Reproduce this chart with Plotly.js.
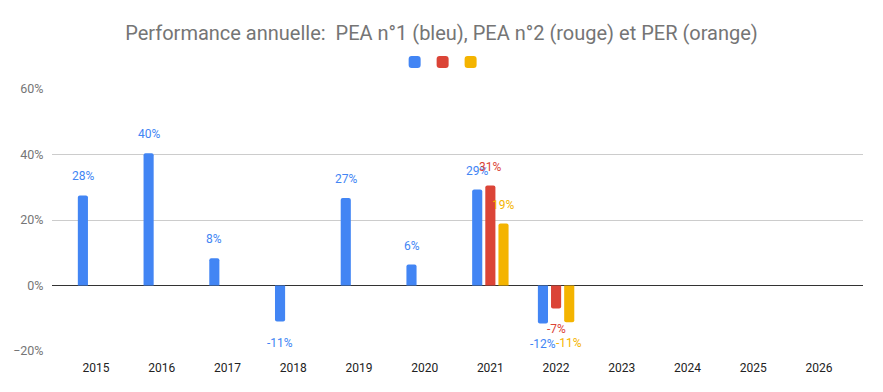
<!DOCTYPE html>
<html>
<head>
<meta charset="utf-8">
<script src="https://cdn.plot.ly/plotly-3.0.1.min.js"></script>
<style>html,body{margin:0;padding:0;background:#fff;}#chart{width:883px;height:392px;}</style>
</head>
<body>
<div id="chart"></div>
<script>
var years = ['2015','2016','2017','2018','2019','2020','2021','2022','2023','2024','2025','2026'];
var pea1 = [27.5, 40.4, 8.3, -11.0, 26.7, 6.4, 29.3, -11.6, null, null, null, null];
var pea2 = [null, null, null, null, null, null, 30.5, -7.0, null, null, null, null];
var per  = [null, null, null, null, null, null, 18.9, -11.2, null, null, null, null];
var seriesNames = [' ', ' ', ' '];
var colors = ['#4285F4', '#DB4437', '#F4B400'];
var series = [pea1, pea2, per];
var legendIds = ['legend', 'legend2', 'legend3'];
var legendX = [0.4225, 0.457, 0.4915];

try {
var slotPx = 65.6 * 0.6 / 3;
var traces = [];
var annotations = [];
series.forEach(function (vals, i) {
  traces.push({
    type: 'bar', x: years, y: vals, name: seriesNames[i], legend: legendIds[i],
    marker: {color: colors[i]}, hoverinfo: 'none'
  });
  for (var j = 0; j < vals.length; j++) {
    var v = vals[j];
    if (v === null || v === undefined) continue;
    annotations.push({
      x: j, y: v, xref: 'x', yref: 'y',
      text: Math.round(v) + '%', showarrow: false,
      xshift: (i - 1) * slotPx, yshift: v >= 0 ? 19 : -21,
      xanchor: 'center', yanchor: 'middle',
      font: {family: 'Roboto, Arial, sans-serif', size: 12, color: colors[i]}
    });
  }
});

var layout = {
  width: 883, height: 392,
  margin: {l: 52, r: 20, t: 89, b: 41},
  paper_bgcolor: '#fff', plot_bgcolor: '#fff',
  font: {family: 'Roboto, Arial, sans-serif'},
  title: {text: 'Performance annuelle:  PEA n°1 (bleu), PEA n°2 (rouge) et PER (orange)',
          x: 0.5, xanchor: 'center', y: 0.915, yanchor: 'middle',
          font: {size: 20, color: '#757575', family: 'Roboto, Arial, sans-serif'}},
  barmode: 'group', bargap: 0.4, bargroupgap: 0.23, barcornerradius: 2,
  showlegend: true,
  xaxis: {type: 'category', range: [-0.67, 11.67], showgrid: false, zeroline: false,
          showline: false, ticks: 'outside', ticklen: 6, tickcolor: 'rgba(0,0,0,0)',
          tickfont: {size: 12, color: '#222222'}, fixedrange: true},
  yaxis: {range: [-20, 60], dtick: 20, tick0: 0, ticksuffix: '%',
          gridcolor: '#cccccc', gridwidth: 1, zeroline: true, zerolinecolor: '#333333',
          zerolinewidth: 1, showline: false, ticks: 'outside', ticklen: 5,
          tickcolor: 'rgba(0,0,0,0)', tickfont: {size: 12.5, color: '#757575'}, fixedrange: true},
  annotations: annotations
};
legendIds.forEach(function (id, i) {
  layout[id] = {orientation: 'h', x: legendX[i], xanchor: 'left', xref: 'paper',
                y: 1.103, yanchor: 'middle', font: {size: 12},
                itemwidth: 30, itemclick: false, itemdoubleclick: false,
                bgcolor: 'rgba(0,0,0,0)'};
});
Plotly.newPlot('chart', traces, layout, {displayModeBar: false, staticPlot: true});
} catch (e) {
  document.body.insertAdjacentHTML('beforeend', '<pre>' + e + '</pre>');
}
</script>
</body>
</html>
